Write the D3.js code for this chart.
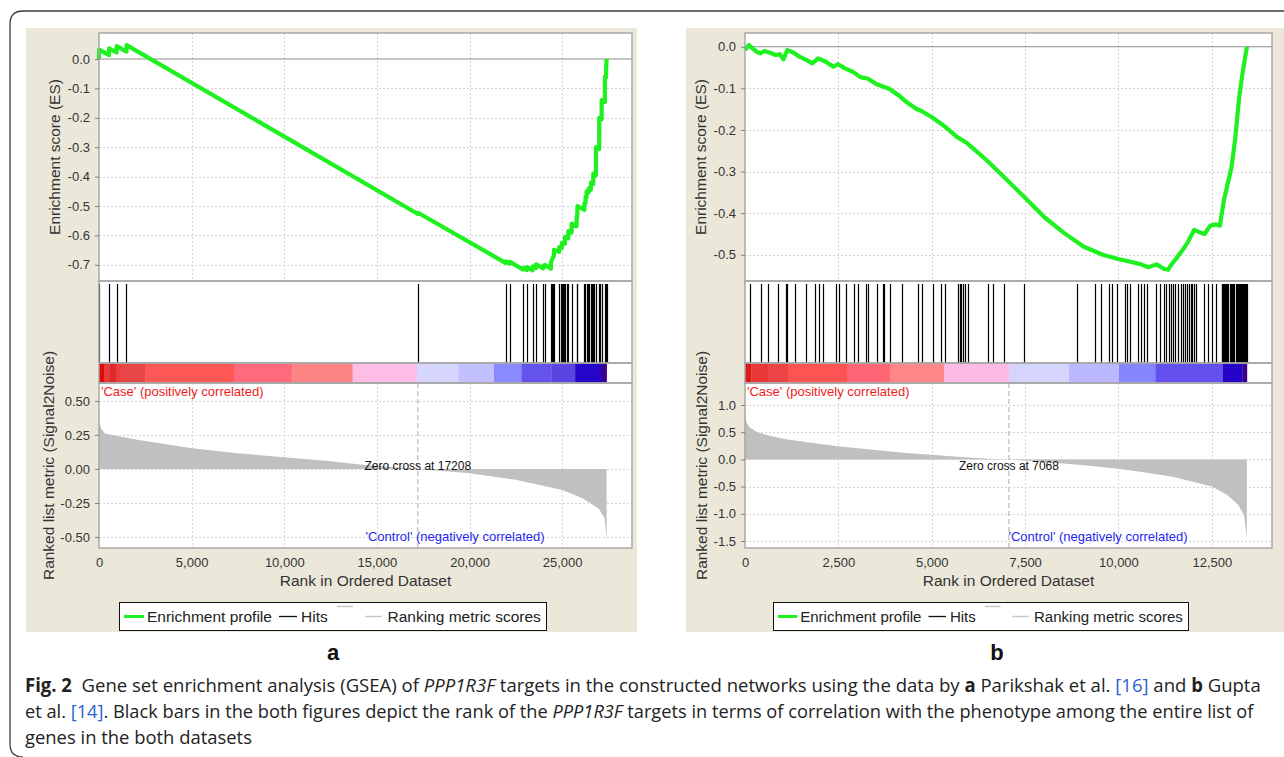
<!DOCTYPE html>
<html><head><meta charset="utf-8">
<script src="https://cdn.jsdelivr.net/npm/d3@7"></script>
<style>body{margin:0;background:#fff}svg{display:block}</style>
</head><body>
<svg id="c" width="1284" height="757"></svg>
<script>
// ---------------- DATA ----------------
// Panel a (Parikshak et al.)
const nGenesA = 27400;
const zeroCrossA = 17208;
const rankTicksA = [0, 5000, 10000, 15000, 20000, 25000];
const esTicksA = [0.0, -0.1, -0.2, -0.3, -0.4, -0.5, -0.6, -0.7];
const metricTicksA = [0.5, 0.25, 0, -0.25, -0.5];
const esProfileA = [
  [0,0],[10,0.032],[540,0.013],[545,0.036],[950,0.022],[955,0.044],[1484,0.025],[1490,0.047],
  [17215,-0.527],[17220,-0.523],[21964,-0.694],[21970,-0.688],[22180,-0.696],[22185,-0.690],
  [22882,-0.716],[22890,-0.710],[23097,-0.718],[23105,-0.708],[23405,-0.719],[23410,-0.705],
  [23583,-0.711],[23590,-0.698],[23977,-0.712],[23985,-0.703],[24053,-0.706],[24060,-0.700],
  [24393,-0.713],[24400,-0.690],[24555,-0.668],[24560,-0.649],[24841,-0.656],[24846,-0.640],
  [24986,-0.642],[24990,-0.625],[25148,-0.628],[25153,-0.605],[25327,-0.610],[25332,-0.585],
  [25510,-0.590],[25515,-0.560],[25780,-0.568],[25785,-0.535],[25820,-0.536],[25825,-0.500],
  [26201,-0.513],[26206,-0.490],[26260,-0.492],[26265,-0.470],[26315,-0.472],[26320,-0.450],
  [26428,-0.454],[26433,-0.440],[26552,-0.445],[26557,-0.420],[26676,-0.425],[26681,-0.390],
  [26821,-0.396],[26826,-0.300],[26999,-0.306],[27004,-0.200],[27129,-0.205],[27134,-0.140],
  [27307,-0.146],[27312,-0.060],[27370,-0.062],[27375,-0.030],[27400,0.0]
];
const hitsA = [10,540,950,1484,17215,21964,22180,22882,23097,23405,23583,23977,24053,24393,24450,
  24500,24555,24841,24916,24986,25030,25078,25148,25240,25327,25510,25780,25820,26201,26260,26315,
  26370,26428,26552,26610,26676,26730,26821,26999,27060,27129,27307,27370,27400];
const metricA = [[0,0.35],[107,0.30],[320,0.26],[1070,0.24],[2140,0.213],[3210,0.19],[5000,0.152],
  [7500,0.115],[10000,0.086],[12400,0.059],[14340,0.03],[17208,0.0],[20000,-0.032],[22500,-0.08],
  [25000,-0.154],[26100,-0.215],[26970,-0.29],[27290,-0.36],[27400,-0.53]];
const colorBandEdgesA = [0,270,594,917,1187,2510,7318,10431,13690,17150,19400,21320,22820,24420,25700,27090,27400];
const colorBandColorsA = ["#dd0a0a","#e83a3a","#e02a2a","#e84040","#e84646","#ff5656","#ff6b7c","#ff8585",
  "#ffbce4","#d6d6ff","#c2c0ff","#8a8aff","#6454ec","#5a44e2","#2604c8","#3c0090"];

// Panel b (Gupta et al.)
const nGenesB = 13440;
const zeroCrossB = 7068;
const rankTicksB = [0, 2500, 5000, 7500, 10000, 12500];
const esTicksB = [0.0, -0.1, -0.2, -0.3, -0.4, -0.5];
const metricTicksB = [1.0, 0.5, 0.0, -0.5, -1.0, -1.5];
const esProfileB = [
  [0,-0.008],[103,0.004],[200,-0.004],[309,-0.012],[412,-0.016],[515,-0.010],[650,-0.014],[824,-0.020],
  [930,-0.018],[1030,-0.030],[1133,-0.008],[1290,-0.014],[1442,-0.023],[1650,-0.032],[1802,-0.040],
  [1957,-0.028],[2163,-0.036],[2369,-0.048],[2492,-0.042],[2678,-0.052],[2884,-0.060],[3090,-0.073],
  [3296,-0.077],[3502,-0.089],[3708,-0.096],[3862,-0.101],[4119,-0.117],[4325,-0.133],[4583,-0.149],
  [4737,-0.155],[4995,-0.169],[5252,-0.185],[5458,-0.200],[5664,-0.216],[5921,-0.230],[6076,-0.242],
  [6488,-0.274],[7003,-0.319],[7497,-0.363],[8033,-0.411],[8548,-0.448],[9063,-0.480],[9578,-0.500],
  [9990,-0.510],[10298,-0.516],[10607,-0.523],[10800,-0.530],[11020,-0.523],[11226,-0.534],[11329,-0.536],
  [11380,-0.528],[11535,-0.510],[11689,-0.492],[11843,-0.472],[12030,-0.440],[12150,-0.445],[12306,-0.450],
  [12461,-0.430],[12615,-0.427],[12718,-0.430],[12821,-0.370],[12924,-0.330],[13027,-0.290],[13130,-0.218],
  [13233,-0.121],[13336,-0.056],[13440,0.0]
];
const hitsB = [127,436,622,880,1106,1137,1343,1622,1880,1983,2086,2426,2519,2704,2910,3034,3240,3292,3529,
  3684,3735,3890,4199,4643,4746,5024,5261,5364,5715,5770,5797,5849,5900,5983,6498,6643,6931,7478,8890,9385,
  9530,9746,9818,9973,10180,10230,10313,10519,10591,10694,10767,11004,11107,11210,11282,11344,11416,11468,
  11520,11592,11674,11720,11777,11830,11880,11932,11983,12035,12086,12293,12396,12499,12602,
  12760,12785,12810,12835,12860,12885,12910,12935,13000,13025,13050,13075,13095,
  13140,13165,13190,13215,13240,13265,13290,13315,13340,13365,13390,13415,13435];
const metricB = [[0,0.835],[41,0.68],[124,0.59],[330,0.50],[640,0.44],[1050,0.376],[1670,0.316],[2490,0.243],
  [3420,0.176],[4240,0.121],[4985,0.085],[5790,0.042],[6510,0.012],[7068,0.0],[8050,-0.049],[9080,-0.109],
  [9990,-0.17],[10630,-0.23],[11450,-0.32],[12070,-0.425],[12500,-0.5],[12900,-0.65],[13200,-0.83],
  [13360,-1.02],[13440,-1.44]];
const colorBandEdgesB = [0,169,632,1149,2747,3880,5326,7080,8676,10015,10998,12800,13319,13440];
const colorBandColorsB = ["#dc1a1a","#e83838","#ec4444","#ff5252","#ff6676","#ff8686","#ffbae4","#d4d4ff",
  "#bcb8ff","#8686ff","#6450ec","#2402c8","#3c0090"];

// ---------------- LAYOUT ----------------
const L = {bgTop:28, bgBottom:632, esTop:33, esBottom:281, hitsTop:284, cbTop:363, cbBottom:383, mBottom:548};
const FONT = "'Liberation Sans', Arial, sans-serif";
const svg = d3.select("#c");

// outer border
svg.append("path").attr("d","M1290,11 H23 Q10,11 10,24 V744 Q10,757 23,757")
  .attr("fill","none").attr("stroke","#3a3a3a").attr("stroke-width",1.3);

function drawPanel(p){
  const g = svg.append("g");
  g.append("rect").attr("x",p.bgX).attr("y",L.bgTop).attr("width",p.bgW).attr("height",L.bgBottom-L.bgTop).attr("fill","#ebe8da");
  g.append("rect").attr("x",p.left).attr("y",L.esTop).attr("width",p.right-p.left).attr("height",L.mBottom-L.esTop).attr("fill","#fff");

  const x = d3.scaleLinear().domain([0, p.n*1.05]).range([p.left, p.right]);
  const yE = d3.scaleLinear().domain(p.esDomain).range([L.esBottom, L.esTop]);
  const yM = d3.scaleLinear().domain(p.mDomain).range([L.mBottom, L.cbBottom]);

  const grid = g.append("g").attr("stroke","#d4d4d4").attr("stroke-width",1).attr("stroke-dasharray","2,2");
  p.xTicks.filter(t=>t>0).forEach(t=>{
    grid.append("line").attr("x1",Math.round(x(t))+0.5).attr("x2",Math.round(x(t))+0.5).attr("y1",L.esTop).attr("y2",L.esBottom);
    grid.append("line").attr("x1",Math.round(x(t))+0.5).attr("x2",Math.round(x(t))+0.5).attr("y1",L.cbBottom).attr("y2",L.mBottom);
  });
  p.esTicks.filter(t=>t!==0).forEach(t=>{
    grid.append("line").attr("x1",p.left).attr("x2",p.right).attr("y1",Math.round(yE(t))+0.5).attr("y2",Math.round(yE(t))+0.5);
  });
  p.mTicks.forEach(t=>{
    grid.append("line").attr("x1",p.left).attr("x2",p.right).attr("y1",Math.round(yM(t))+0.5).attr("y2",Math.round(yM(t))+0.5);
  });

  // ES zero line
  g.append("line").attr("x1",p.left).attr("x2",p.right).attr("y1",yE(0)).attr("y2",yE(0)).attr("stroke","#8c8c8c").attr("stroke-width",1.2);

  // metric area
  g.append("path").datum(p.metric)
    .attr("d", d3.area().x(d=>x(d[0])).y0(yM(0)).y1(d=>yM(d[1])))
    .attr("fill","#c0c0c0");

  // zero-cross dashed line
  g.append("line").attr("x1",x(p.zero)).attr("x2",x(p.zero)).attr("y1",L.cbBottom).attr("y2",L.mBottom)
    .attr("stroke","#a8a8a8").attr("stroke-width",1).attr("stroke-dasharray","5,3");

  // ES profile
  g.append("path").datum(p.es)
    .attr("d", d3.line().x(d=>x(d[0])).y(d=>yE(d[1])))
    .attr("fill","none").attr("stroke","#1ff01f").attr("stroke-width",4.2).attr("stroke-linejoin","round");

  // colour bar
  g.selectAll(null).data(p.bandColors).enter().append("rect")
    .attr("x",(d,i)=>x(p.bandEdges[i])).attr("width",(d,i)=>x(p.bandEdges[i+1])-x(p.bandEdges[i])+0.3)
    .attr("y",L.cbTop+0.5).attr("height",L.cbBottom-L.cbTop-1).attr("fill",d=>d);

  // hits
  g.selectAll(null).data(p.hits).enter().append("line")
    .attr("x1",d=>Math.round(x(d))+0.5).attr("x2",d=>Math.round(x(d))+0.5)
    .attr("y1",L.hitsTop).attr("y2",L.cbTop).attr("stroke","#000").attr("stroke-width",1.2);

  // frames
  const fr = g.append("g").attr("fill","none").attr("stroke","#a4a4a4").attr("stroke-width",1.4);
  fr.append("rect").attr("x",p.left).attr("y",L.esTop).attr("width",p.right-p.left).attr("height",L.esBottom-L.esTop);
  fr.append("rect").attr("x",p.left).attr("y",L.esBottom).attr("width",p.right-p.left).attr("height",L.cbTop-L.esBottom);
  fr.append("rect").attr("x",p.left).attr("y",L.cbTop).attr("width",p.right-p.left).attr("height",L.cbBottom-L.cbTop);
  fr.append("rect").attr("x",p.left).attr("y",L.cbBottom).attr("width",p.right-p.left).attr("height",L.mBottom-L.cbBottom);

  // axes
  const styleAxis = sel => {
    sel.select(".domain").remove();
    sel.selectAll(".tick line").attr("stroke","#808080");
    sel.selectAll(".tick text").attr("fill","#333").style("font-family",FONT).style("font-size","13px");
  };
  g.append("g").attr("transform",`translate(${p.left},0)`)
    .call(d3.axisLeft(yE).tickValues(p.esTicks).tickFormat(d=>d.toFixed(1)).tickSize(4).tickPadding(5))
    .call(styleAxis);
  g.append("g").attr("transform",`translate(${p.left},0)`)
    .call(d3.axisLeft(yM).tickValues(p.mTicks).tickFormat(d=>d.toFixed(p.mDec)).tickSize(4).tickPadding(5))
    .call(styleAxis);
  g.append("g").attr("transform",`translate(0,${L.mBottom})`)
    .call(d3.axisBottom(x).tickValues(p.xTicks).tickFormat(d3.format(",")).tickSize(0).tickPadding(10))
    .call(styleAxis);

  // axis titles
  const title = (tx,ty,rot,txt) => g.append("text").attr("transform",`translate(${tx},${ty}) rotate(${rot})`)
    .attr("text-anchor","middle").attr("fill","#333").style("font-family",FONT).style("font-size","15.5px").text(txt);
  title(p.esLabelX, (L.esTop+L.esBottom)/2, -90, "Enrichment score (ES)");
  title(p.mLabelX, (L.cbBottom+L.mBottom)/2, -90, "Ranked list metric (Signal2Noise)");
  title((p.left+p.right)/2, 586, 0, "Rank in Ordered Dataset");

  // annotations
  g.append("text").attr("x",p.left+2).attr("y",396).attr("fill","#ee1c1c")
    .style("font-family",FONT).style("font-size","13px").text("'Case' (positively correlated)");
  g.append("text").attr("x",(p.left+p.right)/2).attr("y",541).attr("fill","#2626ee")
    .style("font-family",FONT).style("font-size","13px").text("'Control' (negatively correlated)");
  g.append("text").attr("x",x(p.zero)).attr("y",470).attr("text-anchor","middle").attr("fill","#111")
    .style("font-family",FONT).style("font-size","12px").text("Zero cross at " + p.zero);

  // legend
  const k = p.legend.k;
  const lg = g.append("g").attr("transform",`translate(${p.legend.x},602)`);
  lg.append("rect").attr("x",0.5).attr("y",0.5).attr("width",p.legend.w).attr("height",28).attr("fill","#fff").attr("stroke","#111").attr("stroke-width",1);
  const lt = (tx,txt)=>lg.append("text").attr("x",tx*k).attr("y",20).attr("fill","#222")
    .style("font-family",FONT).style("font-size",(15.5*k)+"px").text(txt);
  lg.append("line").attr("x1",5*k).attr("x2",25*k).attr("y1",14.5).attr("y2",14.5).attr("stroke","#1ff01f").attr("stroke-width",3);
  lt(28,"Enrichment profile");
  lg.append("line").attr("x1",160*k).attr("x2",178*k).attr("y1",14.5).attr("y2",14.5).attr("stroke","#111").attr("stroke-width",1.3);
  lt(182,"Hits");
  lg.append("line").attr("x1",218*k).attr("x2",234*k).attr("y1",4.5).attr("y2",4.5).attr("stroke","#c8c8c8").attr("stroke-width",1.5);
  lg.append("line").attr("x1",246*k).attr("x2",263*k).attr("y1",14.5).attr("y2",14.5).attr("stroke","#c8c8c8").attr("stroke-width",1.5);
  lt(268.5,"Ranking metric scores");

  // panel label
  svg.append("text").attr("x",p.labelX).attr("y",660).attr("text-anchor","middle").attr("fill","#111")
    .style("font-family",FONT).style("font-weight","bold").style("font-size","22px").text(p.label);
}

drawPanel({bgX:26,bgW:611,left:99,right:632,n:nGenesA,zero:zeroCrossA,
  esDomain:[-0.755,0.0884],mDomain:[-0.581,0.632],mDec:2,
  xTicks:rankTicksA,esTicks:esTicksA,mTicks:metricTicksA,
  es:esProfileA,hits:hitsA,metric:metricA,bandEdges:colorBandEdgesA,bandColors:colorBandColorsA,
  esLabelX:60,mLabelX:54,legend:{x:119,w:427,k:1},labelX:333,label:"a"});
drawPanel({bgX:686,bgW:600,left:745,right:1272,n:nGenesB,zero:zeroCrossB,
  esDomain:[-0.563,0.033],mDomain:[-1.629,1.404],mDec:1,
  xTicks:rankTicksB,esTicks:esTicksB,mTicks:metricTicksB,
  es:esProfileB,hits:hitsB,metric:metricB,bandEdges:colorBandEdgesB,bandColors:colorBandColorsB,
  esLabelX:706,mLabelX:707,legend:{x:773,w:415,k:0.972},labelX:997,label:"b"});

// caption (natural layout, then condensed horizontally with a scale transform)
const CAP = "'Open Sans', 'Noto Sans', sans-serif";
const captionLines = [
  {y:692, len:1237, parts:[["Fig. 2","b"],["\u00a0 Gene set enrichment analysis (GSEA) of ",""],["PPP1R3F","i"],
    [" targets in the constructed networks using the data by ",""],["a","b"],[" Parikshak et al. ",""],["[16]","l"],
    [" and ",""],["b","b"],[" Gupta",""]]},
  {y:718, len:1229, parts:[["et al. ",""],["[14]","l"],[". Black bars in the both figures depict the rank of the ",""],
    ["PPP1R3F","i"],[" targets in terms of correlation with the phenotype among the entire list of",""]]},
  {y:744, len:227, parts:[["genes in the both datasets",""]]}
];
captionLines.forEach(line=>{
  const t = svg.append("text").attr("x",0).attr("y",0).attr("fill","#222")
    .style("font-family",CAP).style("font-size","19px");
  line.parts.forEach(([s,st])=>{
    const ts = t.append("tspan").text(s);
    if(st==="b") ts.style("font-weight","bold");
    if(st==="i") ts.style("font-style","italic");
    if(st==="l") ts.attr("fill","#2a62d4");
  });
  const nat = t.node().getComputedTextLength();
  t.attr("transform",`translate(25,${line.y}) scale(${line.len/nat},1)`);
});
</script>
</body></html>
